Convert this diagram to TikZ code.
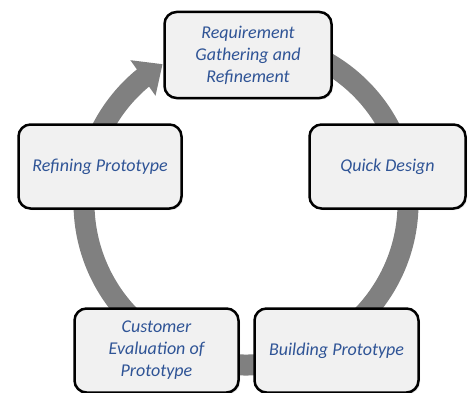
\documentclass[tikz,border=0pt]{standalone}
\usepackage{fontspec}
\newfontfamily\stagefont{Carlito}
\usetikzlibrary{arrows.meta}
\usetikzlibrary{bending}
\usetikzlibrary{shadows}
\definecolor{stagetext}{RGB}{47,84,150}
\definecolor{stagefill}{RGB}{241,241,241}
\definecolor{cyclegray}{RGB}{128,128,128}
\tikzset{stage/.style={draw, line width=2.5pt, rounded corners=12pt, fill=stagefill, inner sep=0pt,
  align=center, text=stagetext, font=\stagefont\itshape\fontsize{18}{22}\selectfont,
  drop shadow={shadow xshift=1.5pt, shadow yshift=-1.5pt, opacity=0.25}}}
\tikzset{cyclearrow/.style={draw=cyclegray, line width=21pt, -{Triangle[width=42pt,length=24pt]}}}

\begin{document}
\begin{tikzpicture}[x=1pt,y=1pt]
\path[use as bounding box, clip] (0,0) rectangle (469,392);

\coordinate (hub) at (246,189);
\draw[cyclearrow] ([shift={(60:162)}]hub) arc[start angle=60, end angle=-239, radius=162];

\node[stage, minimum width=167, minimum height=86] (req) at (248,337) {Requirement\\Gathering and\\Refinement};
\node[stage, minimum width=163, minimum height=84] (refine) at (100,225.5) {Refining Prototype};
\node[stage, minimum width=156, minimum height=84] (design) at (387.5,225.5) {Quick Design};
\node[stage, minimum width=164, minimum height=84] (cust) at (156.5,41.5) {Customer\\Evaluation of\\Prototype};
\node[stage, minimum width=164, minimum height=84] (build) at (336.5,41.5) {Building Prototype};
\end{tikzpicture}
\end{document}
